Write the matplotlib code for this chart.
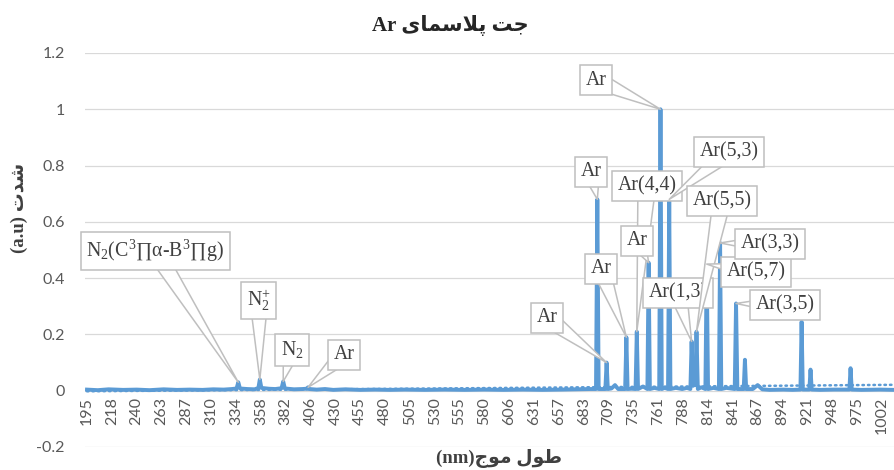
import numpy as np
import matplotlib
matplotlib.use('Agg')
import matplotlib.pyplot as plt

plt.rcParams['mathtext.fontset'] = 'custom'
plt.rcParams['mathtext.rm'] = 'Liberation Serif'
plt.rcParams['mathtext.it'] = 'Liberation Serif:italic'
plt.rcParams['mathtext.bf'] = 'Liberation Serif:bold'

# category labels of the x axis (nm)
tick_nm = [195, 218, 240, 263, 287, 310, 334, 358, 382, 406, 430, 455, 480,
           505, 530, 555, 580, 606, 631, 657, 683, 709, 735, 761, 788, 814,
           841, 867, 894, 921, 948, 975, 1002]

# spectrum
wavelength_nm = [195, 205, 215, 228, 240, 252, 265, 278, 290, 302, 312, 322, 330,
                 334.5, 336.2, 337.8, 345, 352, 355.6, 357, 358.5, 366, 372, 378,
                 379.6, 381.2, 390, 398, 402, 403.6, 405, 412, 420, 428, 440, 455,
                 470, 485, 500, 520, 540, 560, 580, 600, 620, 640, 660, 675, 690,
                 695.8, 697.2, 698.6, 705.6, 706.9, 708.2, 712, 715.7, 719,
                 726.3, 727.6, 728.9, 733, 737.2, 738.5, 739.8, 745, 749.6, 750.9,
                 752.2, 757, 762, 763.4, 764.8, 768, 771.6, 772.9, 774.2, 780, 787,
                 792, 795.6, 796.9, 798.2, 800.8, 802.0, 803.4, 807, 811.3, 812.7,
                 814.1, 820, 825.9, 827.2, 828.5, 834, 843, 844.4, 845.8, 852.4,
                 853.7, 855.0, 862, 867, 872, 880, 895, 905, 913.5, 914.8, 916.1,
                 923.2, 924.5, 925.8, 935, 950, 966.7, 968, 969.3, 980, 1000, 1015]
intensity = [0.004, 0.002, 0.005, 0.003, 0.004, 0.002, 0.005, 0.003, 0.004, 0.003, 0.005, 0.004, 0.006,
             0.008, 0.030, 0.008, 0.006, 0.005, 0.010, 0.040, 0.010, 0.007, 0.006, 0.009,
             0.033, 0.008, 0.005, 0.006, 0.007, 0.012, 0.006, 0.004, 0.006, 0.003, 0.005, 0.003,
             0.004, 0.003, 0.004, 0.003, 0.004, 0.003, 0.004, 0.003, 0.004, 0.003, 0.004, 0.005, 0.006,
             0.006, 0.680, 0.006, 0.006, 0.100, 0.006, 0.008, 0.020, 0.006,
             0.006, 0.190, 0.006, 0.007, 0.006, 0.210, 0.006, 0.015, 0.006, 0.455,
             0.006, 0.010, 0.006, 1.000, 0.006, 0.010, 0.006, 0.680, 0.006, 0.010, 0.006,
             0.010, 0.006, 0.175, 0.020, 0.020, 0.210, 0.006, 0.012, 0.006, 0.450,
             0.006, 0.010, 0.006, 0.525, 0.006, 0.010, 0.006, 0.310, 0.006, 0.006,
             0.110, 0.006, 0.006, 0.020, 0.005, 0.003, 0.004, 0.003, 0.004, 0.245, 0.004,
             0.004, 0.075, 0.004, 0.003, 0.004, 0.004, 0.080, 0.004, 0.003, 0.004, 0.003]

# linear trendline (dotted), end values
trend_nm = [195, 1015]
trend_val = [-0.002, 0.021]

# data callouts: label, point it is attached to
callout_text = [r'N$_{\mathrm{2}}$(C$^{\mathrm{3}}$∏α-B$^{\mathrm{3}}$∏g)',
                r'N$_{\mathrm{2}}^{+}$', r'N$_{\mathrm{2}}$', 'Ar',
                'Ar', 'Ar', 'Ar', 'Ar(4,4)', 'Ar', 'Ar', 'Ar(5,3)',
                'Ar(1,3)', 'Ar(5,5)', 'Ar(5,7)', 'Ar(3,3)', 'Ar(3,5)']
callout_nm = [336.2, 357, 379.6, 403.6, 697.2, 706.9, 727.6, 738.5,
              750.9, 763.4, 772.9, 796.9, 802.0, 812.7, 827.2, 844.4]
callout_val = [0.030, 0.040, 0.033, 0.012, 0.680, 0.100, 0.190, 0.210,
               0.455, 1.000, 0.680, 0.175, 0.210, 0.450, 0.525, 0.310]
# where each callout box sits (category position, value)
callout_box = [(2.74, 0.497), (6.92, 0.320), (8.25, 0.146), (10.35, 0.128),
               (20.29, 0.778), (18.52, 0.259), (20.69, 0.433), (22.54, 0.728),
               (22.14, 0.533), (20.49, 1.104), (25.85, 0.849), (23.79, 0.348),
               (25.56, 0.675), (26.93, 0.422), (27.50, 0.522), (28.10, 0.305)]

blue = '#5B9BD5'
grey_txt = '#595959'
serif_fa = ['Liberation Serif', 'DejaVu Sans']


def nm_to_cat(nm):
    # category axis: labels are evenly spaced, wavelengths are not
    idx = np.arange(len(tick_nm))
    nm = np.asarray(nm, float)
    pos = np.interp(nm, tick_nm, idx)
    hi = nm > tick_nm[-1]
    pos[hi] = idx[-1] + (nm[hi] - tick_nm[-1]) / (tick_nm[-1] - tick_nm[-2])
    return pos


fig = plt.figure(figsize=(8.94, 4.70), dpi=100)
ax = fig.add_axes([85 / 894, 23 / 470, 809 / 894, 394 / 470])
# category labels sit under the zero line (spine position resets ticks, so set it first)
for s in ax.spines.values():
    s.set_visible(False)
ax.spines['bottom'].set_position(('data', 0))

ax.plot(nm_to_cat(wavelength_nm), intensity, color=blue, lw=2.8,
        solid_joinstyle='round', zorder=3)
ax.plot(nm_to_cat(trend_nm), trend_val, color=blue, lw=1.8, ls=(0, (0.6, 1.6)),
        dash_capstyle='round', zorder=4)

ax.set_xlim(-0.08, 32.49)
ax.set_ylim(-0.2, 1.2)
yt = np.arange(-0.2, 1.21, 0.2)
ax.set_yticks(yt)
ax.set_yticklabels(['%g' % round(v, 1) for v in yt], family='Lato')
ax.set_xticks(range(len(tick_nm)))
ax.set_xticklabels([str(t) for t in tick_nm], rotation=90, family='Lato')
ax.grid(axis='y', color='#D9D9D9', lw=0.9, zorder=0)
ax.set_axisbelow(True)
ax.tick_params(axis='x', length=0, pad=4.5, labelsize=11.5, labelcolor=grey_txt)
ax.tick_params(axis='y', length=0, pad=14.5, labelsize=11.5, labelcolor=grey_txt)

# callouts, drawn in the order of the points
for txt, nm, val, box in zip(callout_text, callout_nm, callout_val, callout_box):
    ax.annotate(txt, xy=(nm_to_cat([nm])[0], val), xytext=box,
                ha='center', va='center', fontsize=14.3, color='#404040',
                family=serif_fa, zorder=5,
                bbox=dict(boxstyle='square,pad=0.28', fc='white', ec='#BFBFBF', lw=1.1),
                arrowprops=dict(arrowstyle='wedge,tail_width=0.9,shrink_factor=0.5',
                                fc='white', ec='#BFBFBF', lw=1.1,
                                patchA=None, shrinkA=0, shrinkB=0))

# Persian text written in visual order with presentation forms
title = 'Ar ' + '\uFEEF\uFE8E\uFEE4\uFEB3\uFEFC\uFB58' + ' ' + '\uFE96\uFE9F'
ylab = '(a.u) ' + '\uFE95\uFEAA\uFEB7'
xlab = '(nm)' + '\uFE9D\uFEEE\uFEE3' + ' ' + '\uFEDD\uFEEE\uFEC3'

fig.text(450 / 894, 1 - 26 / 470, title, ha='center', va='center', fontsize=15,
         fontweight='bold', family=serif_fa, color='#262626')
fig.text(499 / 894, 1 - 458 / 470, xlab, ha='center', va='center', fontsize=13.5,
         fontweight='bold', family=serif_fa, color='#404040')
fig.text(19 / 894, 1 - 208 / 470, ylab, ha='center', va='center', fontsize=13.5,
         fontweight='bold', family=serif_fa, color='#404040', rotation=90)

fig.savefig('out.png', dpi=100)
